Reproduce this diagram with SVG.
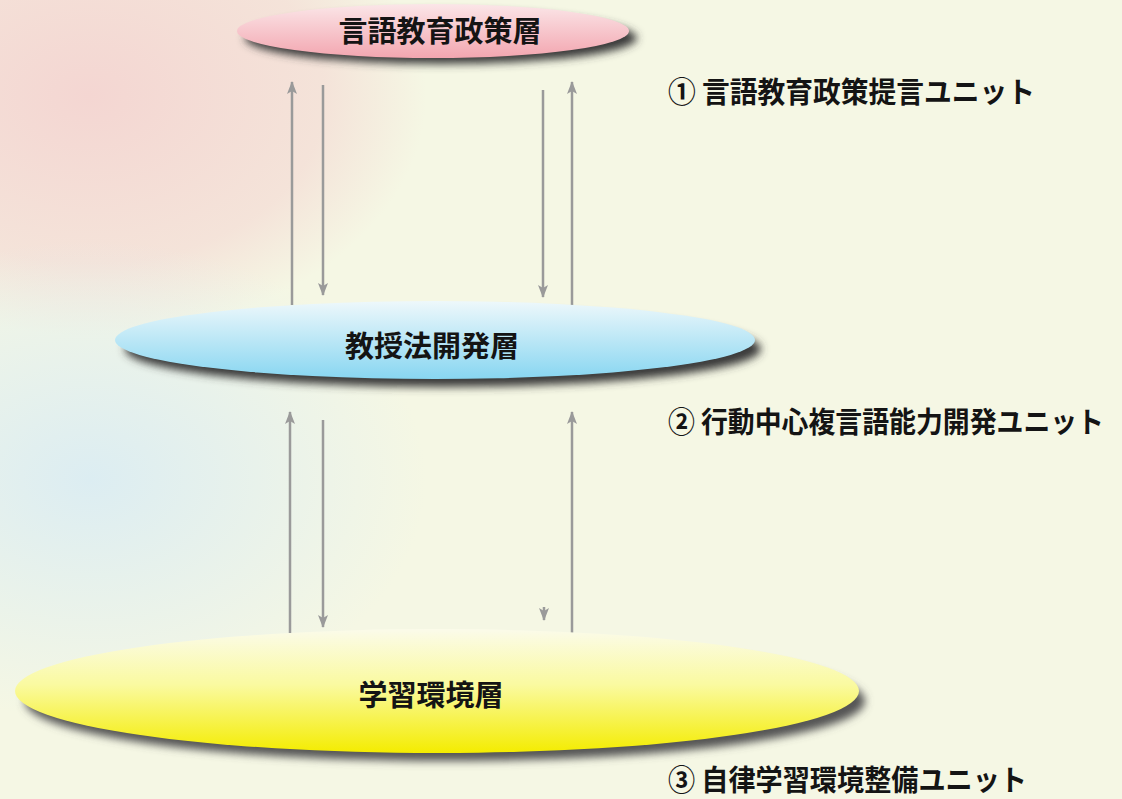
<svg xmlns="http://www.w3.org/2000/svg" width="1122" height="799" viewBox="0 0 1122 799">
  <defs>
    <style>
      .lbl { font-family: "Noto Sans CJK JP", "Noto Sans CJK SC", sans-serif; font-weight: bold; fill: #141414; }
      .node { font-size: 29px; text-anchor: middle; }
      .unit { font-size: 29px; }
      .conn { stroke: #9a9a9a; stroke-width: 2.5; fill: none; }
    </style>
    <marker id="ah" viewBox="0 0 13 10" refX="12" refY="5" markerWidth="13" markerHeight="10" markerUnits="userSpaceOnUse" orient="auto">
      <path d="M0,0 L13,5 L0,10 L3,5 Z" fill="#9a9a9a"/>
    </marker>
    <linearGradient id="gPink" x1="0" y1="0" x2="0" y2="1">
      <stop offset="0" stop-color="#fbe6e8"/>
      <stop offset="1" stop-color="#f3a6b0"/>
    </linearGradient>
    <linearGradient id="gBlue" x1="0" y1="0" x2="0" y2="1">
      <stop offset="0" stop-color="#eef8fb"/>
      <stop offset="1" stop-color="#88d6f1"/>
    </linearGradient>
    <linearGradient id="gYellow" x1="0" y1="0" x2="0" y2="1">
      <stop offset="0" stop-color="#fbfbea"/>
      <stop offset="0.45" stop-color="#fafaa0"/>
      <stop offset="1" stop-color="#f4ec00"/>
    </linearGradient>
    <radialGradient id="bgPink" cx="0.08" cy="0.12" r="0.3">
      <stop offset="0" stop-color="#f4d6d2" stop-opacity="1"/>
      <stop offset="0.7" stop-color="#f4d6d2" stop-opacity="0.6"/>
      <stop offset="1" stop-color="#f4d6d2" stop-opacity="0"/>
    </radialGradient>
    <radialGradient id="bgBlue" cx="0.08" cy="0.6" r="0.3">
      <stop offset="0" stop-color="#dcedf2" stop-opacity="1"/>
      <stop offset="1" stop-color="#dcedf2" stop-opacity="0"/>
    </radialGradient>
    <filter id="blur" x="-10%" y="-50%" width="120%" height="200%">
      <feGaussianBlur stdDeviation="4"/>
    </filter>
  </defs>

  <g id="background">
    <rect width="1122" height="799" fill="#f5f7e4"/>
    <rect width="1122" height="799" fill="url(#bgPink)"/>
    <rect width="1122" height="799" fill="url(#bgBlue)"/>
  </g>

  <g id="connectors">
    <line class="conn" x1="292" y1="305" x2="292" y2="82" marker-end="url(#ah)"/>
    <line class="conn" x1="323" y1="85" x2="323" y2="295" marker-end="url(#ah)"/>
    <line class="conn" x1="543" y1="90" x2="543" y2="297" marker-end="url(#ah)"/>
    <line class="conn" x1="572" y1="305" x2="572" y2="82" marker-end="url(#ah)"/>
    <line class="conn" x1="290" y1="633" x2="290" y2="412" marker-end="url(#ah)"/>
    <line class="conn" x1="323" y1="420" x2="323" y2="627" marker-end="url(#ah)"/>
    <line class="conn" x1="544" y1="607" x2="544" y2="620" marker-end="url(#ah)"/>
    <line class="conn" x1="572" y1="633" x2="572" y2="412" marker-end="url(#ah)"/>
  </g>

  <g id="policy-layer">
    <ellipse cx="441" cy="38" rx="196" ry="26" fill="#3a3a3a" filter="url(#blur)"/>
    <ellipse cx="433" cy="31" rx="196" ry="27" fill="url(#gPink)"/>
    <text class="lbl node" x="440" y="42">言語教育政策層</text>
  </g>

  <g id="method-layer">
    <ellipse cx="443" cy="349" rx="318" ry="38" fill="#3a3a3a" filter="url(#blur)"/>
    <ellipse cx="435" cy="340" rx="320" ry="39" fill="url(#gBlue)"/>
    <text class="lbl node" x="432" y="357">教授法開発層</text>
  </g>

  <g id="environment-layer">
    <ellipse cx="445" cy="701" rx="420" ry="60" fill="#555" filter="url(#blur)"/>
    <ellipse cx="437" cy="691" rx="422" ry="62" fill="url(#gYellow)"/>
    <text class="lbl node" x="431" y="706">学習環境層</text>
  </g>

  <g id="unit-1">
    <text class="lbl unit" x="668" y="103" textLength="367" lengthAdjust="spacingAndGlyphs">① 言語教育政策提言ユニット</text>
  </g>
  <g id="unit-2">
    <text class="lbl unit" x="668" y="433" textLength="436" lengthAdjust="spacingAndGlyphs">② 行動中心複言語能力開発ユニット</text>
  </g>
  <g id="unit-3">
    <text class="lbl unit" x="668" y="791" textLength="359" lengthAdjust="spacingAndGlyphs">③ 自律学習環境整備ユニット</text>
  </g>
</svg>
